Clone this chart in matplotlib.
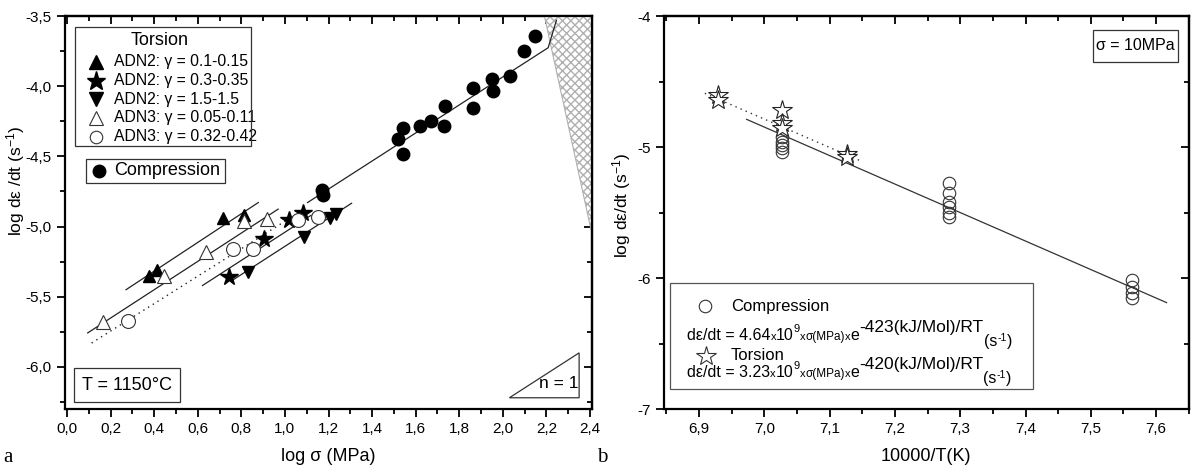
import matplotlib
matplotlib.use("Agg")
import matplotlib.pyplot as plt
from matplotlib.patches import Rectangle, Polygon
from matplotlib.ticker import MultipleLocator, FuncFormatter

plt.rcParams['font.family'] = ['Liberation Sans', 'DejaVu Sans']
plt.rcParams['mathtext.fontset'] = 'custom'
plt.rcParams['mathtext.rm'] = 'Liberation Sans'
plt.rcParams['mathtext.it'] = 'Liberation Sans:italic'

# ---------------- data: panel a ----------------
comp_x = [2.149, 2.096, 2.034, 1.950, 1.957, 1.864, 1.861, 1.734, 1.732, 1.670,
          1.619, 1.544, 1.521, 1.540, 1.168, 1.173]
comp_y = [-3.64, -3.747, -3.925, -3.95, -4.034, -4.015, -4.155, -4.14, -4.283, -4.245,
          -4.283, -4.297, -4.378, -4.484, -4.74, -4.774]
adn2_a_x = [0.378, 0.411, 0.717, 0.810]          # gamma 0.1-0.15
adn2_a_y = [-5.355, -5.308, -4.94, -4.916]
adn2_b_x = [0.745, 0.904, 1.017, 1.084]          # gamma 0.3-0.35
adn2_b_y = [-5.356, -5.086, -4.954, -4.901]
adn2_c_x = [0.832, 1.089, 1.206, 1.234]          # gamma 1.5-1.5
adn2_c_y = [-5.323, -5.072, -4.937, -4.913]
adn3_a_x = [0.167, 0.445, 0.636, 0.811, 0.916]   # gamma 0.05-0.11
adn3_a_y = [-5.683, -5.352, -5.181, -4.961, -4.944]
adn3_b_x = [0.281, 0.760, 0.852, 1.061, 1.153]   # gamma 0.32-0.42
adn3_b_y = [-5.671, -5.157, -5.157, -4.956, -4.933]

fit_a_x = [0.271, 0.878];   fit_a_y = [-5.450, -4.829]
fit_b_x = [0.622, 1.12];    fit_b_y = [-5.42, -4.92]
fit_c_x = [0.763, 1.306];   fit_c_y = [-5.379, -4.834]
fit_d_x = [0.095, 0.969];   fit_d_y = [-5.758, -4.876]
fit_e_x = [0.113, 1.023];   fit_e_y = [-5.830, -4.940]
fit_comp_x = [1.104, 2.208, 2.246]; fit_comp_y = [-4.829, -3.726, -3.53]
hatch_x = [2.19, 2.41, 2.41]; hatch_y = [-3.5, -3.5, -5.07]
tri_x = [2.03, 2.35, 2.35]; tri_y = [-6.22, -6.22, -5.90]

torsion_labels = ["ADN2: γ = 0.1-0.15", "ADN2: γ = 0.3-0.35", "ADN2: γ = 1.5-1.5",
                  "ADN3: γ = 0.05-0.11", "ADN3: γ = 0.32-0.42"]

# ---------------- data: panel b ----------------
bcomp_x = [7.027]*5 + [7.283]*6 + [7.563]*4
bcomp_y = [-4.921, -4.960, -4.985, -5.010, -5.036,
           -5.277, -5.353, -5.418, -5.456, -5.506, -5.532,
           -6.015, -6.066, -6.117, -6.155]
btor_x = [6.929, 6.929, 7.027, 7.027, 7.027, 7.127, 7.127]
btor_y = [-4.603, -4.641, -4.718, -4.819, -4.857, -5.056, -5.074]
bfit_comp_x = [6.973, 7.616]; bfit_comp_y = [-4.789, -6.188]
bfit_tor_x = [6.909, 7.147];  bfit_tor_y = [-4.590, -5.105]

fig = plt.figure(figsize=(11.92, 4.68), dpi=100)
W, H = 1192.0, 468.0
axA = fig.add_axes([64.8/W, 1-409/H, (592.2-64.8)/W, (409-16)/H])
axB = fig.add_axes([663.7/W, 1-409/H, (1188.8-663.7)/W, (409-16)/H])

comma = FuncFormatter(lambda v, p: f"{v:.1f}".replace('.', ','))
intfmt = FuncFormatter(lambda v, p: f"{v:.0f}")


def style_axes(ax, xmaj, xmin, ymaj, ymin, xfmt, yfmt):
    for s in ax.spines.values():
        s.set_linewidth(1.6)
    ax.xaxis.set_major_locator(MultipleLocator(xmaj))
    ax.xaxis.set_minor_locator(MultipleLocator(xmin))
    ax.yaxis.set_major_locator(MultipleLocator(ymaj))
    ax.yaxis.set_minor_locator(MultipleLocator(ymin))
    ax.xaxis.set_major_formatter(xfmt)
    ax.yaxis.set_major_formatter(yfmt)
    ax.tick_params(which='both', direction='out', top=False, right=False,
                   labelsize=11, width=1.3)
    ax.tick_params(which='major', length=6)
    ax.tick_params(which='minor', length=3.5)
    sx = ax.secondary_xaxis('top')
    sx.xaxis.set_major_locator(MultipleLocator(xmaj))
    sx.xaxis.set_minor_locator(MultipleLocator(xmin))
    sx.tick_params(which='both', direction='in', labeltop=False, width=1.3)
    sx.tick_params(which='major', length=6)
    sx.tick_params(which='minor', length=3.5)
    sx.spines['top'].set_linewidth(1.6)
    sy = ax.secondary_yaxis('right')
    sy.yaxis.set_major_locator(MultipleLocator(ymaj))
    sy.yaxis.set_minor_locator(MultipleLocator(ymin))
    sy.tick_params(which='both', direction='in', labelright=False, width=1.3)
    sy.tick_params(which='major', length=6)
    sy.tick_params(which='minor', length=3.5)
    sy.spines['right'].set_linewidth(1.6)


# ---------------- panel a ----------------
ax = axA
ax.set_xlim(-0.01, 2.41)
ax.set_ylim(-6.3, -3.5)
style_axes(ax, 0.2, 0.1, 0.5, 0.25, comma, comma)

ax.add_patch(Polygon(list(zip(hatch_x, hatch_y)), closed=True, facecolor='white',
                     edgecolor='#b0b0b0', hatch='xxxx', linewidth=0.8, zorder=1))
ax.add_patch(Polygon(list(zip(tri_x, tri_y)), closed=True, fill=False,
                     edgecolor='#333333', linewidth=0.9, zorder=2))
ax.text(2.255, -6.12, "n = 1", fontsize=12.5, ha='center', va='center')

lc = '#222222'
ax.plot(fit_a_x, fit_a_y, color=lc, lw=0.9, zorder=2)
ax.plot(fit_b_x, fit_b_y, color=lc, lw=0.9, zorder=2)
ax.plot(fit_c_x, fit_c_y, color=lc, lw=0.9, zorder=2)
ax.plot(fit_d_x, fit_d_y, color=lc, lw=0.9, zorder=2)
ax.plot(fit_e_x, fit_e_y, color=lc, lw=1.0, ls=(0, (1, 3)), zorder=2)
ax.plot(fit_comp_x, fit_comp_y, color=lc, lw=0.9, zorder=2)

ax.plot(comp_x, comp_y, 'o', color='black', ms=9, ls='none', zorder=3)
ax.plot(adn2_a_x, adn2_a_y, '^', color='black', ms=9, ls='none', zorder=3)
ax.plot(adn2_b_x, adn2_b_y, '*', color='black', ms=13, ls='none', zorder=3)
ax.plot(adn2_c_x, adn2_c_y, 'v', color='black', ms=9, ls='none', zorder=3)
ax.plot(adn3_a_x, adn3_a_y, '^', mfc='white', mec='#333333', mew=0.8, ms=10, ls='none', zorder=3)
ax.plot(adn3_b_x, adn3_b_y, 'o', mfc='white', mec='#333333', mew=0.8, ms=10, ls='none', zorder=3)


def fx(px):
    return (px - 64.8) / 527.4


def fy(py):
    return (409 - py) / 393.0


ax.add_patch(Rectangle((fx(75), fy(146)), fx(251)-fx(75), fy(26.7)-fy(146), transform=ax.transAxes,
                       fill=False, edgecolor='#333333', lw=0.9, zorder=4))
ax.text(fx(160), fy(40.7), "Torsion", transform=ax.transAxes, ha='center', va='center', fontsize=13)
ent_y = [61.7, 80.7, 99.3, 117.7, 136.7]
ent_m = [dict(marker='^', color='black', ms=10), dict(marker='*', color='black', ms=14),
         dict(marker='v', color='black', ms=10),
         dict(marker='^', mfc='white', mec='#333333', mew=0.8, ms=10),
         dict(marker='o', mfc='white', mec='#333333', mew=0.8, ms=9)]
for yy, lab, mk in zip(ent_y, torsion_labels, ent_m):
    ax.plot([fx(95.7)], [fy(yy)], transform=ax.transAxes, ls='none', zorder=5, clip_on=False, **mk)
    ax.text(fx(114.3), fy(yy), lab, transform=ax.transAxes, ha='left', va='center', fontsize=11.3)

ax.add_patch(Rectangle((fx(86), fy(182.7)), fx(225)-fx(86), fy(159.3)-fy(182.7), transform=ax.transAxes,
                       fill=False, edgecolor='#333333', lw=0.9, zorder=4))
ax.plot([fx(99)], [fy(170.7)], 'o', color='black', ms=9, transform=ax.transAxes, clip_on=False)
ax.text(fx(114), fy(170.7), "Compression", transform=ax.transAxes, ha='left', va='center', fontsize=13)

ax.add_patch(Rectangle((fx(74), fy(402)), fx(180)-fx(74), fy(367.7)-fy(402), transform=ax.transAxes,
                       fill=False, edgecolor='#333333', lw=0.9, zorder=4))
ax.text(fx(127), fy(385), "T = 1150°C", transform=ax.transAxes, ha='center', va='center', fontsize=13)

ax.set_xlabel("log σ (MPa)", fontsize=13)
ax.xaxis.set_label_coords(0.5, -0.1)
ax.set_ylabel(r"log dε /dt (s$^{\mathregular{-1}}$)", fontsize=12.5)
ax.yaxis.set_label_coords(fx(27), 0.58)

# ---------------- panel b ----------------
ax = axB
ax.set_xlim(6.846, 7.65)
ax.set_ylim(-7, -4)
style_axes(ax, 0.1, 0.05, 1, 0.5, comma, intfmt)

ax.plot(bfit_comp_x, bfit_comp_y, color='#333333', lw=0.9, zorder=2)
ax.plot(bfit_tor_x, bfit_tor_y, color='#333333', lw=1.0, ls=(0, (1, 3)), zorder=2)
ax.plot(bcomp_x, bcomp_y, 'o', mfc='none', mec='#333333', mew=0.8, ms=9, ls='none', zorder=3)
ax.plot(btor_x, btor_y, '*', mfc='white', mec='#222222', mew=0.8, ms=15, ls='none', zorder=3)


def gx(px):
    return (px - 663.7) / 525.1


ax.add_patch(Rectangle((gx(670), fy(389)), gx(1033)-gx(670), fy(282.7)-fy(389), transform=ax.transAxes,
                       facecolor='white', edgecolor='#555555', lw=0.9, zorder=4))
ax.plot([gx(705)], [fy(306)], 'o', mfc='white', mec='#333333', mew=0.8, ms=9, transform=ax.transAxes, zorder=5)
ax.text(gx(730.7), fy(306), "Compression", transform=ax.transAxes, ha='left', va='center', fontsize=12, zorder=5)
ax.plot([gx(705.7)], [fy(355.7)], '*', mfc='white', mec='#333333', mew=0.8, ms=15, transform=ax.transAxes, zorder=5)
ax.text(gx(730.7), fy(355.7), "Torsion", transform=ax.transAxes, ha='left', va='center', fontsize=12, zorder=5)


def chain(ax, x0, y0, pieces):
    s, fs, dy = pieces[0]
    prev = ax.text(x0, y0, s, fontsize=fs, transform=ax.transAxes, ha='left', va='baseline', zorder=6)
    for s, fs, dy in pieces[1:]:
        prev = ax.annotate(s, xy=(1, y0), xycoords=(prev, 'axes fraction'), xytext=(0, dy),
                           textcoords='offset points', fontsize=fs, ha='left', va='baseline', zorder=6)


def formula(coef, q):
    return [("dε/dt = " + coef, 11.5, 0), ("x", 8, 0), ("10", 11.5, 0), ("9", 8, 6),
            ("x", 8, 0), ("σ(MPa)", 8.5, 0), ("x", 8, 0), ("e", 11.5, 0),
            ("-" + q + "(kJ/Mol)/RT", 12.5, 6), ("(s", 11.5, -4.5), ("-1", 7.5, -0.8), (")", 11.5, -4.5)]


chain(ax, gx(687), fy(340), formula("4.64", "423"))
chain(ax, gx(687), fy(377), formula("3.23", "420"))

ax.add_patch(Rectangle((gx(1093), fy(62)), gx(1178)-gx(1093), fy(30)-fy(62), transform=ax.transAxes,
                       fill=False, edgecolor='#333333', lw=0.9, zorder=4))
ax.text(gx(1135.5), fy(46), "σ = 10MPa", transform=ax.transAxes, ha='center', va='center', fontsize=11.5)

ax.set_xlabel("10000/T(K)", fontsize=13)
ax.xaxis.set_label_coords(0.5, -0.1)
ax.set_ylabel(r"log dε/dt (s$^{\mathregular{-1}}$)", fontsize=12.5)
ax.yaxis.set_label_coords(gx(633), 0.517)

fig.text(3/W, 1-457/H, "a", fontsize=15, family='Liberation Serif', ha='left', va='center')
fig.text(597/W, 1-457/H, "b", fontsize=15, family='Liberation Serif', ha='left', va='center')

fig.savefig("out.png", dpi=100)
